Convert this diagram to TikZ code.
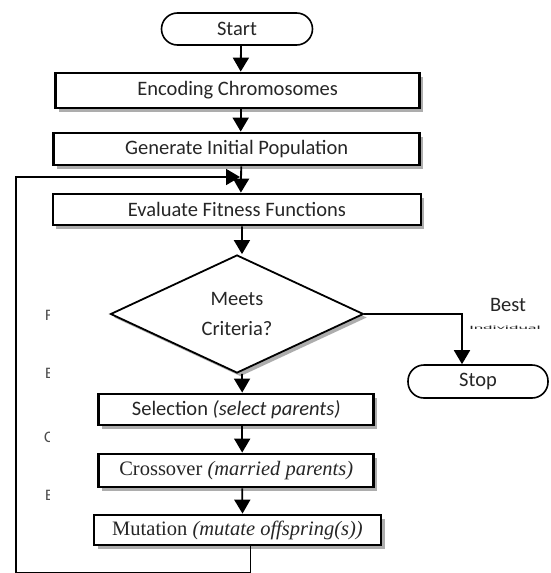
\documentclass[tikz,border=0pt]{standalone}
\usepackage{fontspec}
\setmainfont{Carlito}
\newfontfamily\timesf{Liberation Serif}
\usetikzlibrary{shapes.geometric,arrows.meta,shadows}
\begin{document}
\begin{tikzpicture}[x=1pt,y=-1pt,
  txt/.style={text=black!85,font=\fontsize{20.5}{30}\selectfont},
  procbox/.style={txt,draw=black,line width=2.8pt,fill=white,inner sep=0pt,
    drop shadow={shadow xshift=3.5pt,shadow yshift=-3.5pt,fill=black!40,opacity=0.8}},
  termbox/.style={txt,draw=black,line width=1.6pt,fill=white,rounded corners=16pt,inner sep=0pt},
  decbox/.style={txt,draw=black,line width=1.8pt,fill=white,diamond,inner sep=0pt,align=center,
    drop shadow={shadow xshift=3.5pt,shadow yshift=-3.5pt,fill=black!40,opacity=0.8}},
  flow/.style={line width=1.8pt,draw=black,-{Triangle[width=16pt,length=14pt]}},
  frag/.style={text=black!70,font=\fontsize{16}{20}\selectfont,anchor=west,inner sep=0pt}
]
\useasboundingbox (0,0) rectangle (551,573);
\fill[white] (0,0) rectangle (551,573);

\node[termbox,minimum width=151pt,minimum height=32pt] (start) at (237,29) {Start};
\node[procbox,minimum width=364pt,minimum height=35pt] (enc) at (237.7,90.5) {Encoding Chromosomes};
\node[procbox,minimum width=366pt,minimum height=32pt] (gen) at (236.7,149) {Generate Initial Population};
\node[procbox,minimum width=368pt,minimum height=31pt] (eval) at (236.9,209.5) {Evaluate Fitness Functions};
\node[decbox,minimum width=253pt,minimum height=118pt] (dia) at (237,314) {Meets\\Criteria?};
\node[termbox,minimum width=140pt,minimum height=33pt] (stop) at (478,381.5) {Stop};
\node[procbox,minimum width=275pt,minimum height=31pt] (sel) at (236.2,409.5) {Selection \textit{(select parents)}};
\node[procbox,minimum width=275pt,minimum height=33pt] (cross) at (236.2,470.5) {\timesf Crossover \textit{(married parents)}};
\node[procbox,minimum width=287pt,minimum height=30pt] (mut) at (237.5,530) {\timesf Mutation \textit{(mutate offspring(s))}};

\node[txt] (best) at (508,305) {Best};
\node[txt,font=\fontsize{5}{6}\selectfont,xscale=3.6] (indiv) at (505,328) {Individual};

\begin{scope}
\clip (44.5,290) rectangle (49,510);
\node[frag] (f1) at (45,315) {F};
\node[frag] (f2) at (45,373) {E};
\node[frag] (f3) at (44,437) {C};
\node[frag] (f4) at (45,495) {E};
\end{scope}

\coordinate (lb) at (16,573.3);
\coordinate (lt) at (16,177);
\coordinate (lin) at (240,177);

\draw[flow] ([xshift=4pt]start.south) -- ([xshift=3pt]enc.north);
\draw[flow] ([xshift=3pt]enc.south) -- ([xshift=4pt]gen.north);
\draw[flow] ([xshift=4.5pt]gen.south) -- ([xshift=4pt]eval.north);
\draw[flow] ([xshift=5pt]eval.south) -- ([xshift=5pt]dia.north);
\draw[flow] ([xshift=5pt]dia.south) -- ([xshift=6pt]sel.north);
\draw[flow] ([xshift=6pt]sel.south) -- ([xshift=6pt]cross.north);
\draw[flow] ([xshift=6pt]cross.south) -- ([xshift=5pt]mut.south |- mut.north);
\draw[flow] (dia.east) -| ([xshift=-16pt]stop.north);
\draw[flow] ([xshift=13pt]mut.south) |- (lb) -- (lt) -- (lin);
\end{tikzpicture}
\end{document}
